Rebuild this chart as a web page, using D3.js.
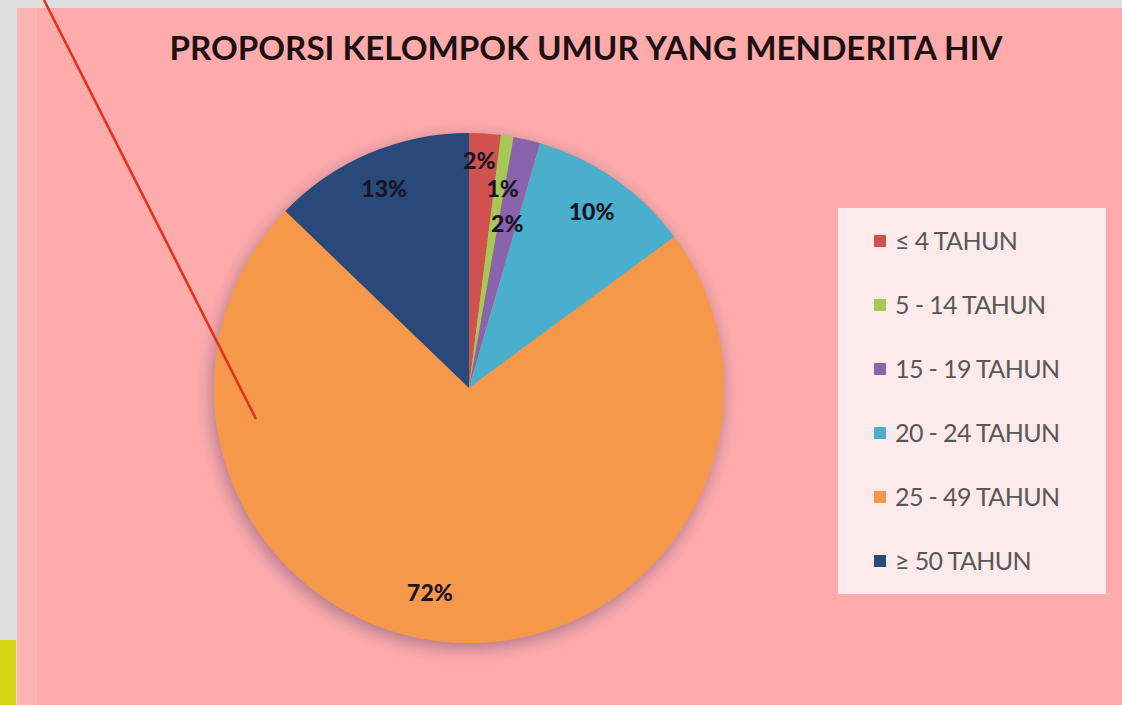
<!DOCTYPE html>
<html>
<head>
<meta charset="utf-8">
<script src="https://cdn.jsdelivr.net/npm/d3@7"></script>
<style>
  html, body { margin: 0; padding: 0; background: #dcdcdc; }
  svg { display: block; }
</style>
</head>
<body>
<svg id="canvas" width="1122" height="705"></svg>
<script>
// data
const categories = ['≤ 4 TAHUN', '5 - 14 TAHUN', '15 - 19 TAHUN', '20 - 24 TAHUN', '25 - 49 TAHUN', '≥ 50 TAHUN'];
const values = [2.0, 0.8, 1.7, 10.4, 72.3, 12.8];
const labels = ['2%', '1%', '2%', '10%', '72%', '13%'];
const colors = ['#cf524f', '#a6c956', '#8a63ad', '#4aafcc', '#f5984a', '#29497a'];
const title = 'PROPORSI KELOMPOK UMUR YANG MENDERITA HIV';

let width = 1122;
let height = 705;
let canvas = d3.select('#canvas');

// frame: grey border, pink slide, yellow strip
canvas.append('rect').attr('x', 0).attr('y', 0).attr('width', width).attr('height', height).attr('fill', '#dedede');
canvas.append('rect').attr('x', 17).attr('y', 8).attr('width', width - 17).attr('height', height - 8).attr('fill', '#ffabab');
canvas.append('rect').attr('x', 17).attr('y', 8).attr('width', 20).attr('height', height - 8).attr('fill', '#ffb3b2');
canvas.append('rect').attr('x', 0).attr('y', 640).attr('width', 16).attr('height', 65).attr('fill', '#d8d616');

let defs = canvas.append('defs');
let glow = defs.append('filter').attr('id', 'glow')
  .attr('x', '-20%').attr('y', '-20%').attr('width', '140%').attr('height', '140%');
glow.append('feDropShadow')
  .attr('dx', -2).attr('dy', 5)
  .attr('stdDeviation', 9)
  .attr('flood-color', '#a0708a')
  .attr('flood-opacity', 0.9);

// title
canvas.append('text')
  .attr('x', 586).attr('y', 60)
  .attr('text-anchor', 'middle')
  .attr('font-family', 'Lato, "Open Sans", sans-serif')
  .attr('font-weight', 'bold')
  .attr('font-size', 32)
  .attr('fill', '#1c1012')
  .attr('textLength', 833)
  .attr('lengthAdjust', 'spacingAndGlyphs')
  .text(title);

// pie
let cx = 469, cy = 388, radius = 255;
let pie = d3.pie().sort(null).value(d => d)(values);
let arc = d3.arc().innerRadius(0).outerRadius(radius);

let g = canvas.append('g').attr('transform', 'translate(' + cx + ',' + cy + ')');
g.append('circle').attr('r', radius).attr('fill', '#f5984a').attr('filter', 'url(#glow)');
g.selectAll('path').data(pie).enter().append('path')
  .attr('d', arc)
  .attr('fill', (d, i) => colors[i]);

// label placement (fraction of radius, angle nudge in degrees)
let labelRadius = [0.89, 0.79, 0.66, 0.84, 0.82, 0.85];
let labelNudge = [-1, 1, 0, 0, 7, 0];
g.selectAll('text.pct').data(pie).enter().append('text')
  .attr('class', 'pct')
  .attr('x', (d, i) => {
    let a = (d.startAngle + d.endAngle) / 2 + labelNudge[i] * Math.PI / 180;
    return Math.sin(a) * radius * labelRadius[i];
  })
  .attr('y', (d, i) => {
    let a = (d.startAngle + d.endAngle) / 2 + labelNudge[i] * Math.PI / 180;
    return -Math.cos(a) * radius * labelRadius[i];
  })
  .attr('dy', '0.35em')
  .attr('text-anchor', 'middle')
  .attr('font-family', 'Lato, "Open Sans", sans-serif')
  .attr('font-weight', 900)
  .attr('font-size', 23)
  .attr('fill', '#1a1424')
  .text((d, i) => labels[i]);

// red pointer line
canvas.append('line')
  .attr('x1', 44).attr('y1', 0).attr('x2', 256).attr('y2', 419)
  .attr('stroke', '#e4321f').attr('stroke-width', 2.6);

// legend
let legend = canvas.append('g');
legend.append('rect')
  .attr('x', 838).attr('y', 208).attr('width', 268).attr('height', 386)
  .attr('fill', '#fdeaea');
let ly = d3.scalePoint().domain(categories).range([241, 561]);
let items = legend.selectAll('g.item').data(categories).enter().append('g')
  .attr('class', 'item')
  .attr('transform', d => 'translate(0,' + ly(d) + ')');
items.append('rect')
  .attr('x', 874).attr('y', -6).attr('width', 12).attr('height', 12)
  .attr('fill', (d, i) => colors[i]);
items.append('text')
  .attr('x', 895).attr('dy', '0.36em')
  .attr('font-family', 'Lato, "Open Sans", sans-serif')
  .attr('font-size', 25)
  .attr('letter-spacing', -0.6)
  .attr('fill', '#585858')
  .text(d => d);
</script>
</body>
</html>
